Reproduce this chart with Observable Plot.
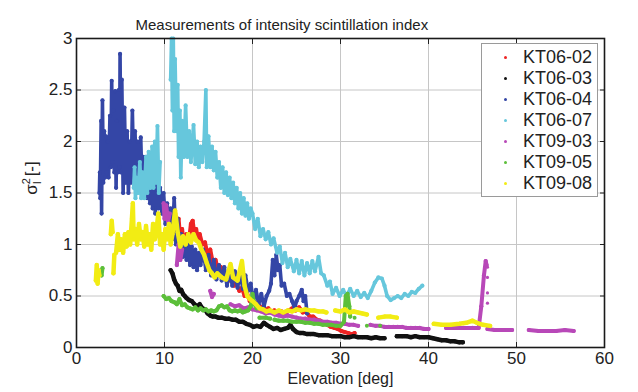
<!DOCTYPE html>
<html><head><meta charset="utf-8">
<script src="https://cdn.jsdelivr.net/npm/d3@7"></script>
<script src="https://cdn.jsdelivr.net/npm/@observablehq/plot@0.6"></script>
<style>
body{margin:0;background:#fff;}
#wrap{position:relative;width:638px;height:392px;font-family:"Liberation Sans",Arial,sans-serif;}
#legend{position:absolute;left:481px;top:43px;width:117px;height:154px;border:1px solid #9a9a9a;background:#fff;box-sizing:border-box;}
#legend .row{position:absolute;left:0;width:100%;height:21px;line-height:21px;font-size:18px;color:#222;}
#legend .dot{position:absolute;left:22px;top:9px;width:3px;height:3px;border-radius:50%;}
#legend .lbl{position:absolute;left:41px;top:0;}
</style></head>
<body><div id="wrap"><div id="legend"></div></div>
<script>
const titleText = "Measurements of intensity scintillation index";
const xLabel = "Elevation [deg]";
const xTicks = [0,10,20,30,40,50,60];
const yTicks = [0,0.5,1,1.5,2,2.5,3];
const seriesNames = ["KT06-02","KT06-03","KT06-04","KT06-07","KT09-03","KT09-05","KT09-08"];
const seriesColors = ["#ee2424","#111111","#3446a6","#66c7dc","#b848b8","#5cbf3a","#f2ec14"];

// KT06-02 (red)
const kt0602X = [10.8,10.9,11.0,11.2,11.4,11.6,11.8,12.0,12.2,12.5,12.8,13.0,13.2,13.4,13.6,13.8,14.0,14.3,14.6,14.9,15.2,15.5,15.8,16.1,16.4,16.7,17.0,17.3,17.6,17.9,18.2,18.5,18.8,19.1,19.4,19.7,20.0,20.3,20.6,20.9,21.2,21.5,21.8,22.1,22.5,22.9,23.3,23.7,24.1,24.5,24.9,25.3,25.7,26.1,26.5,26.9,27.3,27.7,28.1,28.5,28.9,29.3,29.7,30.1,30.5,30.9,31.3,31.6];
const kt0602Y = [1.1,1.33,1.15,1.3,1.1,1.25,1.05,1.15,1.0,1.1,1.05,1.2,1.23,1.1,1.15,1.05,1.1,1.0,1.02,0.9,0.95,0.82,0.85,0.75,0.78,0.7,0.72,0.65,0.68,0.6,0.62,0.55,0.58,0.5,0.52,0.45,0.47,0.42,0.43,0.38,0.4,0.36,0.38,0.35,0.36,0.33,0.35,0.32,0.36,0.38,0.36,0.39,0.34,0.35,0.3,0.3,0.27,0.26,0.24,0.22,0.2,0.19,0.18,0.16,0.15,0.14,0.13,0.14];

// KT06-03 (black)
const kt0603X = [10.7,10.9,11.1,11.3,11.5,11.7,11.9,12.1,12.3,12.5,12.8,13.1,13.4,13.7,14.0,14.3,14.6,14.9,15.2,15.5,15.8,16.1,16.5,16.9,17.3,17.7,18.1,18.5,18.9,19.3,19.7,20.1,20.5,20.9,21.3,21.6,22.0,22.4,22.8,23.2,23.6,24.0,24.3,24.6,25.0,25.4,25.8,26.2,26.6,27.0,27.5,28.0,28.5,29.0,29.5,30.0,30.5,31.0,31.5,32.0,32.5,33.0,33.5,34.0,34.5,35.0,35.3,36.4,37.0,37.5,38.0,38.5,39.0,39.5,40.0,40.5,41.0,41.5,42.0,42.5,43.0,43.5,43.9];
const kt0603Y = [0.75,0.72,0.66,0.62,0.6,0.55,0.56,0.52,0.5,0.48,0.46,0.45,0.42,0.4,0.42,0.38,0.37,0.33,0.31,0.3,0.3,0.29,0.29,0.28,0.28,0.27,0.27,0.25,0.25,0.23,0.22,0.2,0.21,0.2,0.24,0.22,0.2,0.18,0.19,0.17,0.18,0.19,0.22,0.18,0.15,0.14,0.14,0.13,0.13,0.13,0.12,0.12,0.12,0.11,0.11,0.11,0.1,0.1,0.11,0.1,0.1,0.1,0.09,0.1,0.09,0.09,null,0.11,0.11,0.11,0.1,0.11,0.1,0.1,0.1,0.09,0.08,0.07,0.07,0.06,0.06,0.05,0.05];

// KT06-04 (dark blue)
const kt0604X = [2.6,2.65,2.7,2.8,2.85,2.95,3.05,3.15,3.25,3.35,3.45,3.55,3.65,3.8,3.9,4.0,4.1,4.2,4.3,4.4,4.5,4.6,4.7,4.8,4.9,4.95,5.05,5.15,5.3,5.45,5.6,5.75,5.9,6.05,6.2,6.35,6.5,6.65,6.8,6.95,7.1,7.3,7.45,7.6,7.75,7.9,8.05,8.2,8.35,8.5,8.65,8.8,8.95,9.1,9.3,9.5,9.7,9.9,10.1,10.3,10.5,10.7,10.9,11.1,11.3,11.5,11.7,11.9,12.1,12.3,12.5,12.7,12.9,13.1,13.3,13.5,13.7,13.9,14.1,14.4,14.7,15.0,15.3,15.6,15.9,16.2,16.5,16.8,17.1,17.4,17.7,18.0,18.3,18.6,18.9,19.2,19.5,19.8,20.1,20.4,20.7,21.0,21.3,21.6,21.9,22.1,22.3,22.5,22.7,22.9,23.1,23.3,23.6,23.9,24.2,24.5,24.8,25.0,25.3,25.6,25.8,26.0,26.2];
const kt0604Y = [1.5,1.7,1.45,2.2,1.3,2.4,1.6,2.1,1.65,2.05,1.7,2.0,1.65,2.25,1.75,2.59,1.8,2.3,1.7,2.49,1.55,2.2,1.7,2.5,1.75,2.85,1.7,2.6,1.5,2.33,1.6,2.1,1.5,2.0,1.6,2.3,1.65,2.1,1.6,2.0,1.55,2.04,1.55,1.85,1.5,1.85,1.45,1.75,1.4,1.7,1.35,1.65,1.3,1.6,1.35,1.55,1.3,1.5,1.2,1.4,1.15,1.35,1.05,1.45,1.0,1.25,0.9,1.1,0.88,1.05,0.85,1.0,0.8,0.98,0.78,0.95,0.75,0.92,0.8,0.95,0.75,0.9,0.7,0.85,0.66,0.8,0.65,0.78,0.6,0.76,0.6,0.74,0.58,0.72,0.57,0.7,0.55,0.62,0.45,0.56,0.42,0.52,0.4,0.5,0.55,0.62,0.85,0.7,0.9,0.75,0.8,0.6,0.62,0.5,0.52,0.45,0.38,0.45,0.5,0.56,0.45,0.5,0.33];

// KT06-07 (light cyan)
const kt0607X = [6.5,6.6,6.7,6.8,7.0,7.2,7.35,7.5,7.7,7.9,8.05,8.2,8.4,8.6,8.75,8.9,9.05,9.2,9.35,9.5,9.55,10.7,10.8,10.9,11.0,11.1,11.2,11.35,11.5,11.6,11.75,11.85,12.0,12.2,12.4,12.6,12.8,13.0,13.3,13.5,13.7,13.9,14.1,14.3,14.5,14.7,14.8,15.0,15.2,15.4,15.6,15.8,16.0,16.2,16.4,16.6,16.8,17.0,17.2,17.4,17.6,17.8,18.0,18.2,18.4,18.6,18.8,19.0,19.2,19.4,19.6,19.8,20.0,20.3,20.6,20.9,21.2,21.5,21.8,22.1,22.4,22.8,23.1,23.4,23.7,24.0,24.3,24.7,25.0,25.3,25.6,25.9,26.2,26.5,26.8,27.1,27.5,27.8,28.1,28.5,28.8,29.1,29.5,29.9,30.3,30.7,31.1,31.5,31.9,32.3,32.7,33.1,33.5,33.9,34.3,34.7,35.0,35.3,35.7,36.1,36.5,36.9,37.3,37.7,38.1,38.5,38.9,39.3];
const kt0607Y = [1.55,1.75,1.45,1.65,1.5,1.8,1.45,1.7,1.45,1.85,1.5,1.9,1.55,1.95,1.55,2.0,1.6,2.15,1.5,1.8,null,2.6,3.0,2.3,3.0,2.1,2.8,2.1,2.55,1.85,2.3,1.65,2.2,1.85,2.35,1.85,2.1,1.8,2.16,1.78,2.0,1.75,1.95,1.8,2.0,2.5,1.75,2.05,1.75,1.95,1.72,1.9,1.65,1.8,1.55,1.75,1.5,1.7,1.48,1.65,1.45,1.6,1.4,1.55,1.35,1.5,1.3,1.45,1.28,1.4,1.25,1.35,1.3,1.15,1.25,1.08,1.15,1.05,1.12,1.0,1.06,0.92,0.98,0.82,0.92,0.78,0.86,0.74,0.85,0.72,0.84,0.7,0.82,0.72,0.84,0.74,0.88,0.72,0.7,0.6,0.64,0.52,0.58,0.5,0.56,0.5,0.57,0.5,0.55,0.49,0.53,0.48,0.55,0.63,0.68,0.67,0.6,0.5,0.46,0.48,0.5,0.48,0.52,0.5,0.54,0.53,0.57,0.6];

// KT09-03 (magenta)
const kt0903X = [9.9,10.0,10.2,10.4,10.6,10.65,11.4,11.6,11.8,12.0,12.05,15.2,15.4,15.6,15.65,17.5,18.0,18.5,19.0,19.5,20.0,20.5,21.0,21.5,22.0,22.5,23.0,23.5,24.0,24.5,25.0,25.5,26.0,26.5,27.0,27.5,28.0,28.5,29.0,29.5,30.0,30.5,31.0,31.5,32.0,32.5,33.4,34.0,34.5,35.0,35.5,36.0,36.5,37.0,37.5,38.0,38.5,39.0,39.5,40.0,40.5,42.0,43.0,44.0,45.0,45.7,46.0,46.3,46.5,46.6,46.65,46.7,47.5,48.5,49.5,49.6,51.4,52.5,53.5,54.5,55.5,56.5];
const kt0903Y = [1.4,1.25,1.38,1.22,1.3,null,0.8,1.0,0.85,0.95,null,0.55,0.49,0.52,null,0.42,0.4,0.41,0.38,0.39,0.37,0.36,0.35,0.33,0.34,0.32,0.31,0.3,0.31,0.3,0.29,0.28,0.28,0.27,0.27,0.26,0.25,0.25,0.24,0.24,0.23,0.23,0.22,0.22,0.21,null,0.22,0.21,0.21,0.2,0.2,0.2,0.2,0.2,0.19,0.19,0.19,0.19,0.18,0.18,null,0.19,0.19,0.19,0.19,0.19,0.4,0.7,0.84,0.8,null,0.18,0.17,0.17,0.17,null,0.17,0.16,0.16,0.16,0.17,0.16];
const kt0903DotX = [46.7,46.7,46.7,46.7];
const kt0903DotY = [0.78,0.68,0.53,0.43];

// KT09-05 (green)
const kt0905X = [2.85,2.95,3.0,9.9,10.2,10.5,10.8,11.1,11.4,11.7,12.0,12.3,12.6,12.9,13.2,13.5,13.8,14.1,14.4,14.7,15.0,15.3,15.6,15.9,16.2,16.5,16.8,17.1,17.4,17.7,18.0,18.3,18.6,18.9,19.2,19.5,19.8,20.0,20.2,20.5,20.6,20.8,21.5,22.0,22.2,22.5,23.0,23.5,24.0,24.5,25.0,25.5,26.0,26.5,27.0,27.5,28.0,28.5,29.0,29.5,30.0,30.4,30.6,30.8,31.0,31.1];
const kt0905Y = [0.7,0.77,null,0.5,0.47,0.48,0.45,0.44,0.42,0.47,0.41,0.42,0.39,0.38,0.37,0.39,0.36,0.38,0.36,0.37,0.35,0.36,0.35,0.36,0.4,0.41,0.39,0.4,0.36,0.35,0.36,0.35,0.36,0.34,0.35,0.36,0.4,0.52,0.42,0.38,null,0.29,0.29,0.28,null,0.27,0.26,0.26,0.26,0.25,0.25,0.25,0.24,0.24,0.23,0.23,0.22,0.22,0.22,0.21,0.21,0.25,0.5,0.52,0.4,0.3];
const kt0905DotX = [31.6,33.0,34.5];
const kt0905DotY = [0.29,0.21,0.21];

// KT09-08 (yellow)
const kt0908X = [2.2,2.3,2.4,2.5,2.6,2.65,3.9,4.0,4.1,4.15,4.2,4.3,4.35,4.5,4.7,4.9,5.1,5.3,5.5,5.7,5.9,6.1,6.3,6.4,6.5,6.7,6.9,7.1,7.3,7.5,7.7,7.9,8.1,8.3,8.5,8.7,8.9,9.1,9.3,9.5,9.7,9.9,10.1,10.3,10.5,10.7,10.9,11.2,11.5,11.8,12.1,12.4,12.7,13.0,13.3,13.6,13.9,14.2,14.5,14.8,15.1,15.4,15.7,16.0,16.5,17.0,17.5,17.8,18.3,18.8,19.1,19.4,19.7,20.0,20.4,20.8,21.2,21.6,22.0,22.5,23.0,23.5,24.0,24.5,25.0,25.5,26.0,26.5,27.0,27.5,28.0,28.4,28.5,29.4,30.0,30.5,31.0,31.5,32.0,32.5,33.0,33.1,34.3,35.0,35.7,36.4,36.5,40.6,41.5,42.5,43.5,44.3,45.0,45.5,46.2,47.0];
const kt0908Y = [0.65,0.8,0.62,0.75,0.7,null,1.1,1.23,1.12,null,0.72,0.9,null,0.92,1.1,0.95,1.05,0.92,1.1,0.98,1.12,1.0,1.25,1.4,1.05,1.15,1.0,1.2,1.05,1.12,0.98,1.18,1.0,1.1,0.95,1.2,1.05,1.15,1.3,1.0,1.1,0.95,1.15,1.05,1.2,1.0,1.1,1.33,1.12,0.98,1.08,1.0,1.1,1.02,1.1,1.04,1.02,0.95,0.9,0.82,0.75,0.72,0.68,0.72,0.68,0.66,0.81,0.68,0.65,0.84,0.6,0.5,0.47,0.45,0.42,0.38,0.37,0.35,0.36,0.34,0.36,0.34,0.36,0.35,0.37,0.36,0.37,0.36,0.36,0.35,0.35,0.34,null,0.36,0.35,0.37,0.34,0.35,0.34,0.33,0.32,null,0.29,0.3,0.3,0.29,null,0.23,0.22,0.22,0.23,0.24,0.26,0.24,0.22,0.21];

const lineXs = [kt0602X,kt0603X,kt0604X,kt0607X,kt0903X,kt0905X,kt0908X];
const lineYs = [kt0602Y,kt0603Y,kt0604Y,kt0607Y,kt0903Y,kt0905Y,kt0908Y];
const widths = [4,4.5,3.6,3.6,4,4,4.5];

const marks = [
  Plot.gridX(xTicks.slice(1,-1), {stroke:"#c6c6c6", strokeOpacity:1, strokeWidth:1}),
  Plot.gridY(yTicks.slice(1,-1), {stroke:"#c6c6c6", strokeOpacity:1, strokeWidth:1})
];
seriesNames.forEach((name, i) => {
  const rows = lineXs[i].map((x, j) => ({x, y: lineYs[i][j]}));
  marks.push(Plot.line(rows, {x:"x", y:"y", stroke: seriesColors[i], strokeWidth: widths[i], curve:"linear", strokeLinejoin:"round"}));
  marks.push(Plot.dot(rows.filter(d => d.y != null), {x:"x", y:"y", fill: seriesColors[i], r: 2.1}));
});
marks.push(Plot.dot(kt0903DotX.map((x,j)=>({x,y:kt0903DotY[j]})), {x:"x", y:"y", fill: seriesColors[4], r: 1.6}));
marks.push(Plot.dot(kt0905DotX.map((x,j)=>({x,y:kt0905DotY[j]})), {x:"x", y:"y", fill: seriesColors[5], r: 2}));

marks.push(
  Plot.axisX(xTicks, {anchor:"bottom", tickSize:-5, tickPadding:9, tickFormat: d => String(d), fontSize:17, label:null}),
  Plot.axisX(xTicks, {anchor:"top", tickSize:-5, tickFormat: () => "", label:null}),
  Plot.axisY(yTicks, {anchor:"left", tickSize:-5, tickPadding:9, tickFormat: d => String(d), fontSize:17, label:null}),
  Plot.axisY(yTicks, {anchor:"right", tickSize:-5, tickFormat: () => "", label:null}),
  Plot.frame({stroke:"#1a1a1a", strokeWidth:1.6}),
  Plot.text([titleText], {frameAnchor:"top-left", textAnchor:"start", dx:59, dy:-19, fontSize:15, fill:"#222"}),
  Plot.text([xLabel], {frameAnchor:"bottom", dy:36, fontSize:16, fill:"#222"})
);

const chart = Plot.plot({
  width: 638, height: 392,
  marginLeft: 76, marginRight: 34, marginTop: 38, marginBottom: 45,
  x: {domain:[0,60]},
  y: {domain:[0,3]},
  style: {fontFamily:'"Liberation Sans", Arial, sans-serif', fontSize:"17px", color:"#222", background:"#fff"},
  marks
});

const svg = d3.select(chart);
const yl = svg.append("text")
  .attr("transform","translate(37,178) rotate(-90)")
  .attr("text-anchor","middle")
  .attr("font-size",17).attr("fill","#222")
  .attr("font-family",'"Liberation Sans", Arial, sans-serif');
yl.append("tspan").text("σ");
yl.append("tspan").attr("font-size",11).attr("dy",-7).text("2");
yl.append("tspan").attr("font-size",11).attr("dx",-6).attr("dy",11).text("I");
yl.append("tspan").attr("dy",-4).text(" [-]");

document.getElementById("wrap").prepend(chart);

const legend = document.getElementById("legend");
seriesNames.forEach((name, i) => {
  const row = document.createElement("div");
  row.className = "row";
  row.style.top = (3 + i*21) + "px";
  const dot = document.createElement("span");
  dot.className = "dot";
  dot.style.background = seriesColors[i];
  const lbl = document.createElement("span");
  lbl.className = "lbl";
  lbl.textContent = name;
  row.appendChild(dot); row.appendChild(lbl);
  legend.appendChild(row);
});
</script></body></html>
